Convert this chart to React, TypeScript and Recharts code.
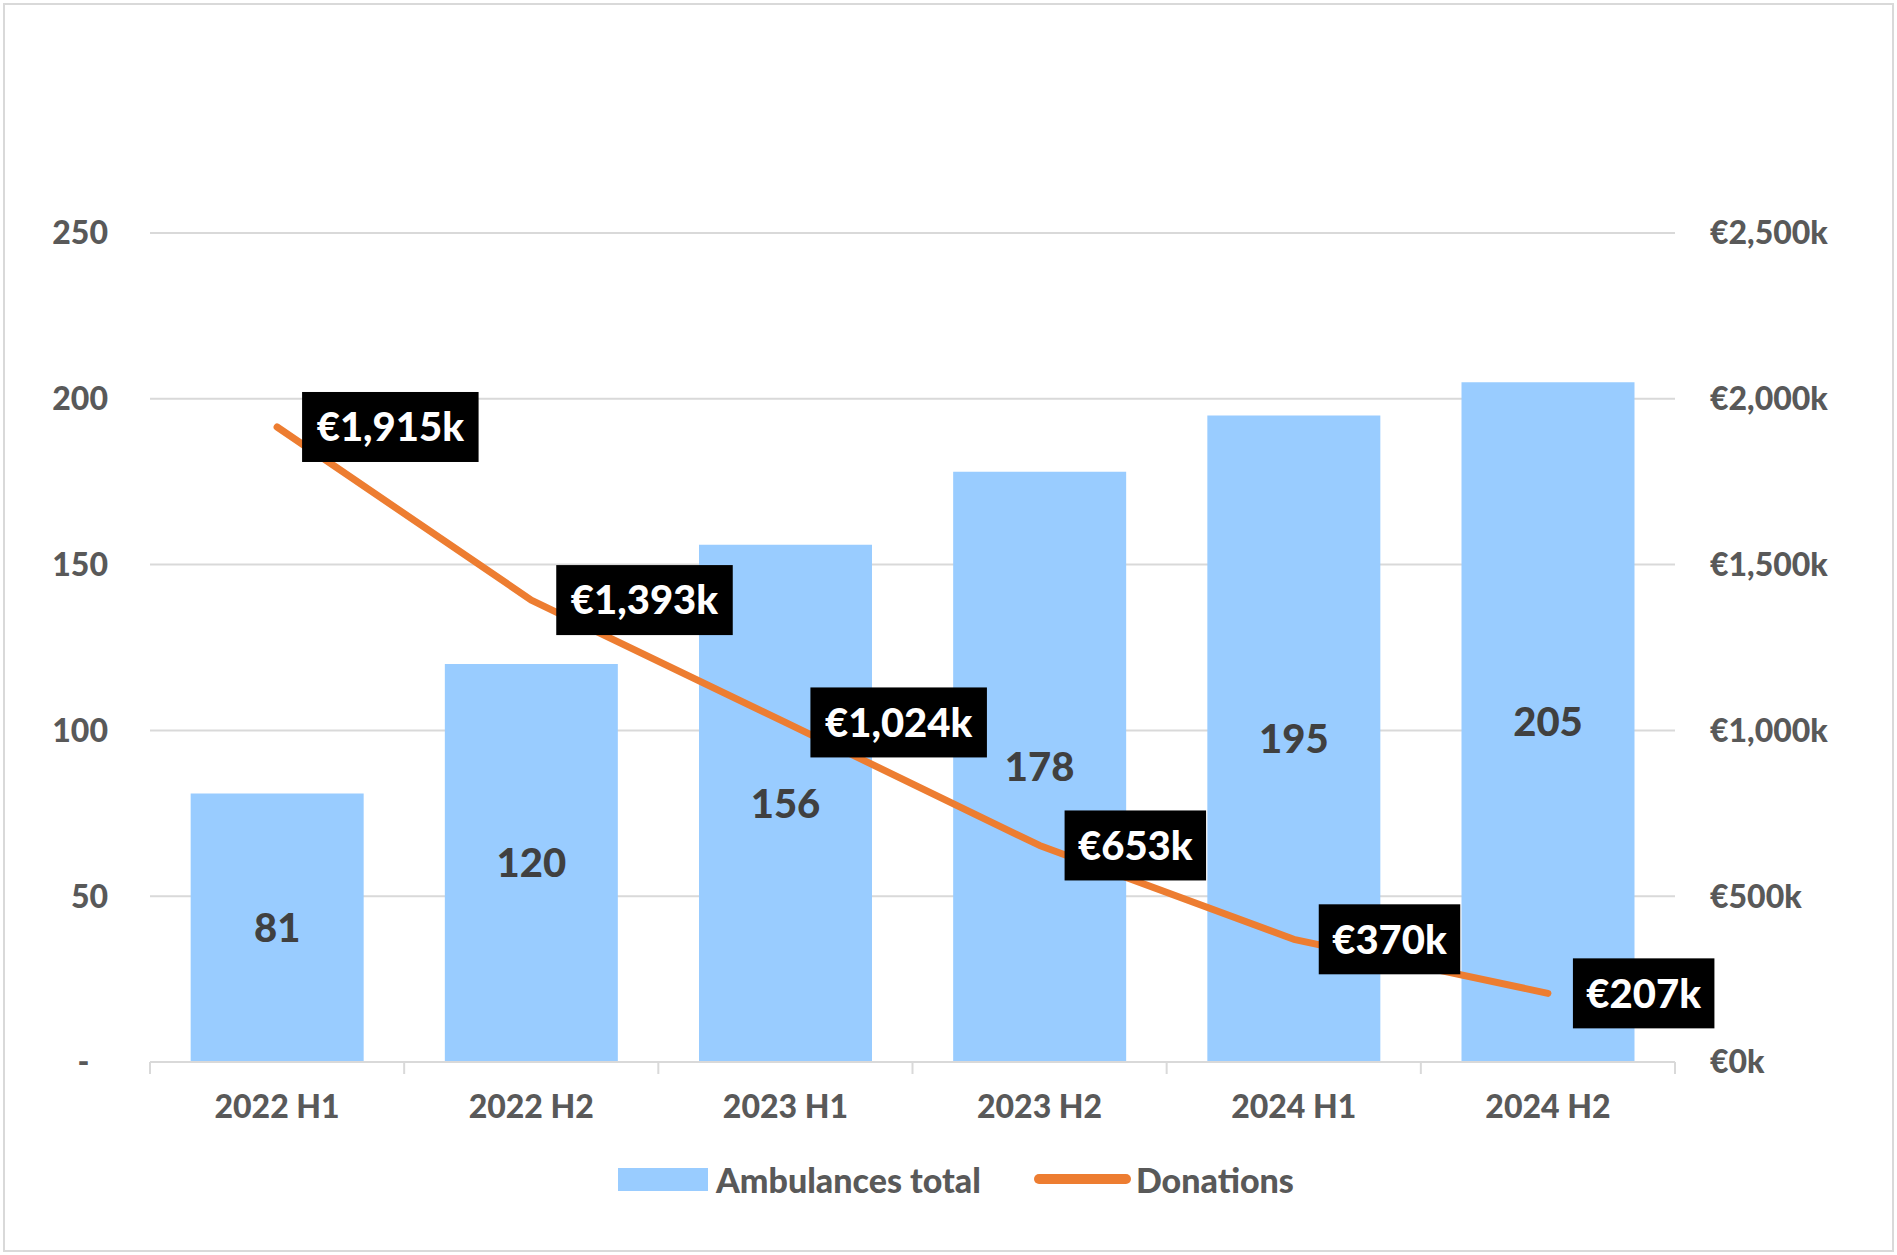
import {
  ComposedChart,
  Bar,
  Line,
  XAxis,
  YAxis,
  CartesianGrid,
  Legend,
  LabelList,
} from "recharts";

const periodos = ["2022 H1", "2022 H2", "2023 H1", "2023 H2", "2024 H1", "2024 H2"];
const ambulancias = [81, 120, 156, 178, 195, 205];
const doacoes = [1915, 1393, 1024, 653, 370, 207];
const ticksEsquerda = [0, 50, 100, 150, 200, 250];
const ticksDireita = [0, 500, 1000, 1500, 2000, 2500];

const COR_BARRA = "#99CCFF";
const COR_LINHA = "#ED7D31";
const COR_GRADE = "#D9D9D9";
const COR_TEXTO = "#595959";
const FONTE = "Lato, 'Open Sans', sans-serif";
const PESO = 900;
const MARGEM_TICK_X = 33;

const dados = periodos.map((periodo, i) => ({
  periodo,
  ambulancias: ambulancias[i],
  doacoes: doacoes[i],
}));

const formatarEuro = (v: number) => `€${v.toLocaleString("en-US")}k`;

function TickCategoria(props: any) {
  const { x, y, payload, index, width, visibleTicksCount } = props;
  const meiaBanda = Number(width) / Number(visibleTicksCount) / 2;
  const yEixo = y - MARGEM_TICK_X;
  const traco = (px: number) => (
    <line x1={px} x2={px} y1={yEixo} y2={yEixo + 12} stroke={COR_GRADE} strokeWidth={2} />
  );
  return (
    <g>
      {traco(x - meiaBanda)}
      {index === visibleTicksCount - 1 && traco(x + meiaBanda)}
      <text
        x={x}
        y={y}
        dy="0.71em"
        textAnchor="middle"
        fill={COR_TEXTO}
        fontSize={32}
        fontWeight={PESO}
        fontFamily={FONTE}
      >
        {payload.value}
      </text>
    </g>
  );
}

function RotuloDoacao(props: any) {
  const { x, y, value } = props;
  const texto = formatarEuro(Number(value));
  const largura = 17.5 * texto.length + 54;
  const esquerda = x + 25;
  return (
    <g>
      <rect x={esquerda} y={y - 35} width={largura} height={70} fill="#000" />
      <text
        x={esquerda + largura / 2}
        y={y}
        dy="0.36em"
        textAnchor="middle"
        fill="#fff"
        fontSize={40}
        fontWeight={PESO}
        fontFamily={FONTE}
      >
        {texto}
      </text>
    </g>
  );
}

function Legenda() {
  const estiloTexto = { fontSize: 34, fontWeight: PESO, color: COR_TEXTO, fontFamily: FONTE };
  return (
    <div style={{ display: "flex", alignItems: "center", height: 90, paddingLeft: 568 }}>
      <span style={{ width: 90, height: 23, background: COR_BARRA, marginRight: 8 }} />
      <span style={estiloTexto}>Ambulances total</span>
      <span
        style={{ width: 97, height: 10, borderRadius: 5, background: COR_LINHA, marginLeft: 53, marginRight: 5 }}
      />
      <span style={estiloTexto}>Donations</span>
    </div>
  );
}

export default function App() {
  const estiloTick = { fontSize: 32, fontWeight: PESO, fill: COR_TEXTO, fontFamily: FONTE };
  return (
    <div
      style={{
        position: "absolute",
        top: 0,
        left: 0,
        width: 1897,
        height: 1255,
        background: "#fff",
      }}
    >
      <div
        style={{
          position: "absolute",
          left: 3,
          top: 3,
          width: 1887,
          height: 1245,
          border: `2px solid ${COR_GRADE}`,
        }}
      />
      <ComposedChart
        width={1897}
        height={1255}
        data={dados}
        margin={{ top: 233, right: 0, bottom: 31, left: 50 }}
        barCategoryGap="16%"
        style={{ position: "absolute", top: 0, left: 0 }}
      >
        <CartesianGrid vertical={false} stroke={COR_GRADE} strokeWidth={2} yAxisId="esq" />
        <XAxis
          dataKey="periodo"
          height={72}
          axisLine={{ stroke: COR_GRADE, strokeWidth: 2 }}
          tickLine={false}
          tickSize={0}
          tickMargin={MARGEM_TICK_X}
          tick={TickCategoria}
          interval={0}
        />
        <YAxis
          yAxisId="esq"
          domain={[0, 250]}
          ticks={ticksEsquerda}
          width={100}
          axisLine={false}
          tickLine={false}
          tickSize={0}
          tickMargin={42}
          tick={estiloTick}
          tickFormatter={(v: number) => (v === 0 ? "-\u2007" : String(v))}
        />
        <YAxis
          yAxisId="dir"
          orientation="right"
          domain={[0, 2500]}
          ticks={ticksDireita}
          width={222}
          axisLine={false}
          tickLine={false}
          tickSize={0}
          tickMargin={35}
          tick={{ ...estiloTick, textAnchor: "start" }}
          tickFormatter={formatarEuro}
        />
        <Legend verticalAlign="bottom" height={90} content={Legenda} />
        <Bar
          dataKey="ambulancias"
          name="Ambulances total"
          yAxisId="esq"
          fill={COR_BARRA}
          isAnimationActive={false}
        >
          <LabelList
            dataKey="ambulancias"
            position="center"
            fill="#404040"
            fontSize={40}
            fontWeight={PESO}
            fontFamily={FONTE}
          />
        </Bar>
        <Line
          dataKey="doacoes"
          name="Donations"
          yAxisId="dir"
          stroke={COR_LINHA}
          strokeWidth={7}
          strokeLinecap="round"
          strokeLinejoin="round"
          dot={false}
          activeDot={false}
          type="linear"
          isAnimationActive={false}
        >
          <LabelList dataKey="doacoes" content={RotuloDoacao} />
        </Line>
      </ComposedChart>
    </div>
  );
}
